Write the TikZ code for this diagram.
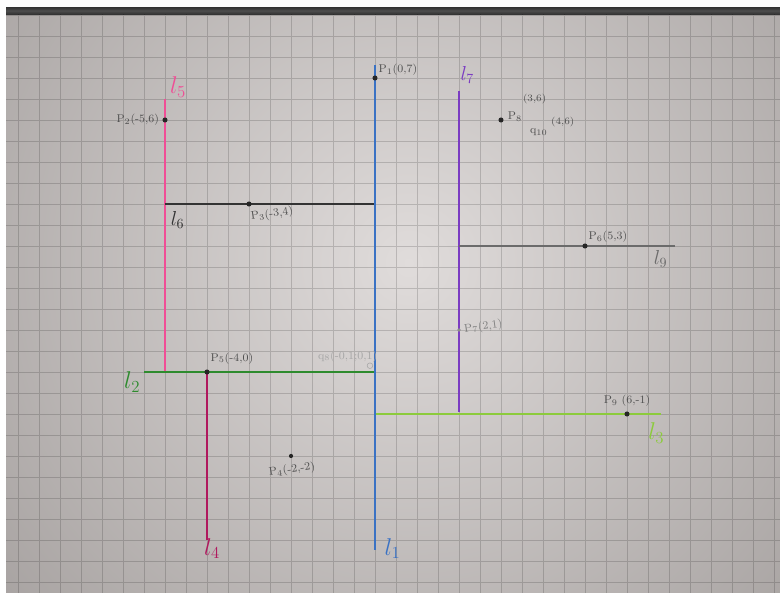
\documentclass[tikz,border=0pt]{standalone}
\usepackage{tikz}
\usetikzlibrary{positioning}
\definecolor{papier}{HTML}{E0DCDB}
\definecolor{papierrand}{HTML}{5A5452}
\definecolor{blau}{HTML}{3A72C4}
\definecolor{rosa}{HTML}{F04E96}
\definecolor{weinrot}{HTML}{B0185E}
\definecolor{gruen}{HTML}{2E8B2E}
\definecolor{hellgruen}{HTML}{8CCB3C}
\definecolor{lila}{HTML}{7B3CC2}
\definecolor{grau}{HTML}{6B6B6B}
\definecolor{stift}{HTML}{505050}

\begin{document}
\begin{tikzpicture}[
        x=1.05cm, y=1.05cm,
        every node/.style={font=\footnotesize},
        linie/.style={line width=1.2pt},
        punkt/.style={circle, fill=black!85, inner sep=0pt, minimum size=3.6pt},
        plabel/.style={text=stift, inner sep=1pt},
        lname/.style={font=\LARGE, inner sep=0pt},
      ]
      \useasboundingbox (-8.929,-5.262) rectangle (9.643,8.857);

      % Papier
      \fill[white] (-8.929,-5.262) rectangle (9.643,8.857);
      \begin{scope}
        \clip (-8.786,-5.262) rectangle (9.643,8.690);
        \shade[inner color=papier, outer color=papierrand] (0.8,2.6) circle (30);
      \end{scope}
      \shade[top color=black!80, bottom color=black!80, middle color=black!70]
        (-8.786,8.52) rectangle (9.643,8.690);
      \draw[black, opacity=0.16, line width=0.5pt, step=0.5]
        (-8.786,-5.262) grid (9.643,8.52);

      % Endpunkte der Geraden
      \coordinate (l1oben) at (0,7.3);
      \coordinate (l1unten) at (0,-4.25);
      \coordinate (l5oben) at (-5,6.5);
      \coordinate (l5unten) at (-5,0);
      \coordinate (l6links) at (-5,4);
      \coordinate (l6rechts) at (0,4);
      \coordinate (l2links) at (-5.5,0);
      \coordinate (l2rechts) at (0,0);
      \coordinate (l4oben) at (-4,0);
      \coordinate (l4unten) at (-4,-4);
      \coordinate (l7oben) at (2,6.7);
      \coordinate (l7unten) at (2,-0.95);
      \coordinate (l9links) at (2,3);
      \coordinate (l9rechts) at (7.15,3);
      \coordinate (l3links) at (0,-1);
      \coordinate (l3rechts) at (6.8,-1);

      % Geraden
      \draw[linie, rosa] (l5oben) -- (l5unten);
      \draw[linie, black!80] (l6links) -- (l6rechts);
      \draw[linie, gruen] (l2links) -- (l2rechts);
      \draw[linie, weinrot] (l4oben) -- (l4unten);
      \draw[linie, lila] (l7oben) -- (l7unten);
      \draw[linie, grau] (l9links) -- (l9rechts);
      \draw[linie, hellgruen] (l3links) -- (l3rechts);
      \draw[linie, blau] (l1oben) -- (l1unten);

      % Namen der Geraden
      \node[lname, rosa] (n5) at (-4.69,6.78) {$l_5$};
      \node[lname, black!80, font=\Large] (n6) at (-4.7,3.62) {$l_6$};
      \node[lname, gruen] (n2) at (-5.78,-0.24) {$l_2$};
      \node[lname, weinrot] (n4) at (-3.88,-4.2) {$l_4$};
      \node[lname, blau] (n1) at (0.42,-4.2) {$l_1$};
      \node[lname, lila, font=\Large] (n7) at (2.2,7.07) {$l_7$};
      \node[lname, grau, font=\Large] (n9) at (6.8,2.7) {$l_9$};
      \node[lname, hellgruen] (n3) at (6.7,-1.45) {$l_3$};

      % Punkte
      \node[punkt] (p1) at (0,7) {};
      \node[plabel, above right=-1pt and 0pt of p1] {P$_1$(0,7)};
      \node[punkt] (p2) at (-5,6) {};
      \node[plabel, left=1pt of p2] {P$_2$(-5,6)};
      \node[punkt] (p3) at (-3,4) {};
      \node[plabel, below right=3pt and -2pt of p3, rotate=8] {P$_3$(-3,4)};
      \node[punkt, minimum size=3pt] (p4) at (-2,-2) {};
      \node[plabel, below=3pt of p4, rotate=8] {P$_4$(-2,-2)};
      \node[punkt] (p5) at (-4,0) {};
      \node[plabel, above right=3pt and 0pt of p5] {P$_5$(-4,0)};
      \node[punkt] (p6) at (5,3) {};
      \node[plabel, above right=0pt and 0pt of p6] {P$_6$(5,3)};
      \node[punkt, fill=black!45, minimum size=2.6pt] (p7) at (2,1) {};
      \node[plabel, right=1pt of p7, text=black!50, rotate=8] {P$_7$(2,1)};
      \node[punkt] (p8) at (3,6) {};
      \node[plabel] (p8name) at (3.33,6.08) {P$_8$};
      \node[plabel, font=\scriptsize] (p8wert) at (3.8,6.5) {(3,6)};
      \node[plabel] (q10name) at (3.9,5.7) {q$_{10}$};
      \node[plabel, font=\scriptsize] (q10wert) at (4.47,5.95) {(4,6)};
      \node[punkt] (p9) at (6,-1) {};
      \node[plabel, above=2pt of p9] {P$_9$ (6,-1)};
      \node[circle, draw=black!35, inner sep=0pt, minimum size=4pt] (q8) at (-0.12,0.15) {};
      \node[plabel, text=black!35, above left=0pt and -8pt of q8] {q$_8$(-0,1;0,1)};
    \end{tikzpicture}
\end{document}
